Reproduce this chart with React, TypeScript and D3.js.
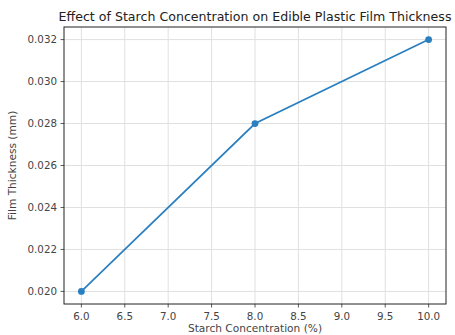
import React from 'react';
import * as d3 from 'd3';

const WIDTH = 455;
const HEIGHT = 335;
const MARGIN = { top: 27, right: 9, bottom: 31, left: 64 };

const concentration = [6.0, 8.0, 10.0];
const thickness = [0.02, 0.028, 0.032];
const xTicks = [6.0, 6.5, 7.0, 7.5, 8.0, 8.5, 9.0, 9.5, 10.0];
const yTicks = [0.02, 0.022, 0.024, 0.026, 0.028, 0.03, 0.032];

const TITLE = 'Effect of Starch Concentration on Edible Plastic Film Thickness';
const X_LABEL = 'Starch Concentration (%)';
const Y_LABEL = 'Film Thickness (mm)';

const FONT = '"DejaVu Sans", sans-serif';
const BLUE = '#2a7fc0';

const App = () => {
  const width = WIDTH - MARGIN.left - MARGIN.right;
  const height = HEIGHT - MARGIN.top - MARGIN.bottom;

  // matplotlib-style 5% padding on each side
  const xPad = (10 - 6) * 0.05;
  const yPad = (0.032 - 0.02) * 0.05;
  const xScale = d3.scaleLinear().domain([6 - xPad, 10 + xPad]).range([0, width]);
  const yScale = d3.scaleLinear().domain([0.02 - yPad, 0.032 + yPad]).range([height, 0]);

  const points = concentration.map((c, i) => [c, thickness[i]] as [number, number]);
  const line = d3
    .line<[number, number]>()
    .x((d) => xScale(d[0]))
    .y((d) => yScale(d[1]));

  return (
    <svg width={WIDTH} height={HEIGHT} style={{ display: 'block', position: 'absolute', left: 0, top: 0 }}>
      <rect width={WIDTH} height={HEIGHT} fill="#fff" />
      <text x={MARGIN.left + width / 2} y={21} textAnchor="middle" fontFamily={FONT} fontSize={12.6} fill="#222">
        {TITLE}
      </text>

      <g transform={`translate(${MARGIN.left}, ${MARGIN.top})`}>
        {/* grid */}
        {xTicks.map((t) => (
          <line key={`gx${t}`} x1={xScale(t)} x2={xScale(t)} y1={0} y2={height} stroke="#e0e0e0" strokeWidth={1} />
        ))}
        {yTicks.map((t) => (
          <line key={`gy${t}`} x1={0} x2={width} y1={yScale(t)} y2={yScale(t)} stroke="#e0e0e0" strokeWidth={1} />
        ))}

        <path d={line(points) as string} fill="none" stroke={BLUE} strokeWidth={1.7} />
        {points.map((p, i) => (
          <circle key={i} cx={xScale(p[0])} cy={yScale(p[1])} r={3.4} fill={BLUE} />
        ))}

        {/* x axis */}
        {xTicks.map((t) => (
          <g key={`tx${t}`} transform={`translate(${xScale(t)}, ${height})`}>
            <line y1={0} y2={3.5} stroke="#333" strokeWidth={0.8} />
            <text y={15.5} textAnchor="middle" fontFamily={FONT} fontSize={10.3} fill="#444">
              {t.toFixed(1)}
            </text>
          </g>
        ))}
        {/* y axis */}
        {yTicks.map((t) => (
          <g key={`ty${t}`} transform={`translate(0, ${yScale(t)})`}>
            <line x1={0} x2={-3.5} stroke="#333" strokeWidth={0.8} />
            <text x={-7} dy="0.35em" textAnchor="end" fontFamily={FONT} fontSize={10.3} fill="#444">
              {t.toFixed(3)}
            </text>
          </g>
        ))}

        <rect x={0} y={0} width={width} height={height} fill="none" stroke="#222" strokeWidth={1} />
      </g>

      <text x={MARGIN.left + width / 2} y={332} textAnchor="middle" fontFamily={FONT} fontSize={10.6} fill="#444">
        {X_LABEL}
      </text>
      <text
        transform={`translate(16, ${MARGIN.top + height / 2}) rotate(-90)`}
        textAnchor="middle"
        fontFamily={FONT}
        fontSize={10.6}
        fill="#444"
      >
        {Y_LABEL}
      </text>
    </svg>
  );
};

export default App;
